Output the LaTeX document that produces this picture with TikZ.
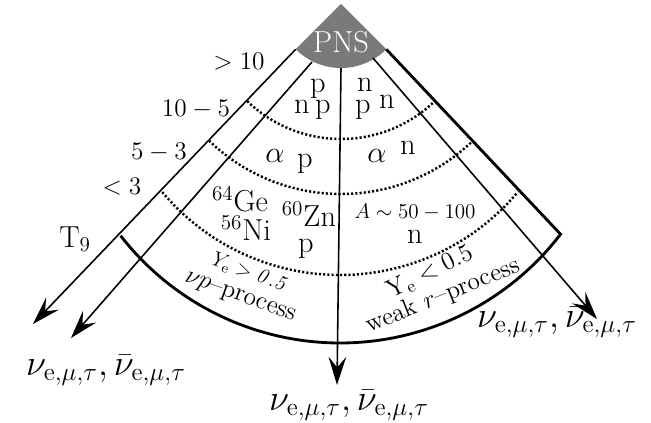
\documentclass[tikz,border=0pt]{standalone}
\usepackage{amsmath}
\usepackage{amssymb}
\usetikzlibrary{arrows.meta}
\definecolor{pnsgray}{RGB}{122,122,122}

\begin{document}
\begin{tikzpicture}[
    nuline/.style={line width=0.9pt, -{Stealth[length=16pt,width=10pt,inset=6pt]}},
    border/.style={line width=1.6pt, line join=miter},
    shell/.style={line width=1.4pt, dash pattern=on 1.2pt off 1.2pt},
    tlabel/.style={font=\Large},
    nuc/.style={font=\LARGE, anchor=base},
    nulabel/.style={font=\fontsize{19.5}{23}\selectfont}]
    \useasboundingbox (-6.82,-8.38) rectangle (6.20,0.08);
    \coordinate (apex) at (0,0);
    \coordinate (pnsL) at (225:1.28);
    \coordinate (pnsR) at (315:1.28);
    \coordinate (pnsC) at (0,-1.28);
    \coordinate (inL) at (-0.58,-1.16);
    \coordinate (inR) at (0.64,-1.08);
    \coordinate (tipLL) at (-6.16,-6.40);
    \coordinate (tipL) at (-5.40,-6.68);
    \coordinate (tipC) at (-0.08,-7.62);
    \coordinate (tipR) at (5.12,-6.30);
    \coordinate (rimR) at ([shift={(322.5:5.56)}]-0.02,-1.22);
    \fill[pnsgray] (apex) -- (pnsL) arc[start angle=225, end angle=315, radius=1.28] -- cycle;
    \node[white, font=\LARGE] (pns) at (0,-0.77) {PNS};
    \draw[shell] (226:2.7) arc[start angle=226, end angle=314, radius=2.7];
    \draw[shell] (226:3.8) arc[start angle=226, end angle=314, radius=3.8];
    \draw[shell] ([shift={(220:4.64)}]-0.02,-0.78) arc[start angle=220, end angle=320, radius=4.64];
    \draw[border] (pnsR) -- (rimR) arc[start angle=322.5, end angle=217.9, radius=5.56];
    \draw[nuline] (pnsL) -- (tipLL);
    \draw[nuline] (inL) -- (tipL);
    \draw[nuline] (pnsC) -- (tipC);
    \draw[nuline] (inR) -- (tipR);
    \node[tlabel] (t1) at (-2.04,-1.16) {$>10$};
    \node[tlabel] (t2) at (-2.90,-2.10) {$10-5$};
    \node[tlabel] (t3) at (-3.64,-2.96) {$5-3$};
    \node[tlabel] (t4) at (-4.38,-3.66) {$<3$};
    \node[font=\LARGE] (t9) at (-5.32,-4.70) {T$_9$};
    \node[nuc] (p1) at (-0.46,-1.78) {p};
    \node[nuc] (n1) at (-0.78,-2.18) {n};
    \node[nuc] (p2) at (-0.36,-2.18) {p};
    \node[nuc] (n2) at (0.48,-1.76) {n};
    \node[nuc] (p3) at (0.44,-2.18) {p};
    \node[nuc] (n3) at (0.92,-2.10) {n};
    \node[nuc] (a1) at (-1.32,-3.16) {$\alpha$};
    \node[nuc] (p4) at (-0.72,-3.26) {p};
    \node[nuc] (a2) at (0.72,-3.16) {$\alpha$};
    \node[nuc] (n4) at (1.34,-3.00) {n};
    \node[font=\LARGE] (ge) at (-2.02,-3.90) {$^{64}$Ge};
    \node[font=\LARGE] (ni) at (-1.90,-4.48) {$^{56}$Ni};
    \node[font=\LARGE] (zn) at (-0.64,-4.20) {$^{60}$Zn};
    \node[nuc] (p5) at (-0.70,-4.96) {p};
    \node[font=\large] (mass) at (1.48,-4.16) {$A\sim 50-100$};
    \node[nuc] (n5) at (1.48,-4.78) {n};
    \node[font=\large, rotate=-20] (yeL) at (-1.82,-5.38) {$Y_{\mathrm{e}} > \mathit{0.5}$};
    \node[font=\Large, rotate=-20] (nup) at (-2.02,-5.88) {$\nu p$--process};
    \node[font=\Large, rotate=26] (yeR) at (1.78,-5.36) {Y$_{\mathrm{e}} < 0.5$};
    \node[font=\Large, rotate=22] (wr) at (2.04,-5.84) {weak $r$--process};
    \node[nulabel] (nuL) at (-4.70,-7.32) {$\nu_{\mathrm{e},\mu,\tau},\bar{\nu}_{\mathrm{e},\mu,\tau}$};
    \node[nulabel] (nuC) at (0.16,-8.02) {$\nu_{\mathrm{e},\mu,\tau},\bar{\nu}_{\mathrm{e},\mu,\tau}$};
    \node[nulabel] (nuR) at (4.32,-6.36) {$\nu_{\mathrm{e},\mu,\tau},\bar{\nu}_{\mathrm{e},\mu,\tau}$};
\end{tikzpicture}
\end{document}
